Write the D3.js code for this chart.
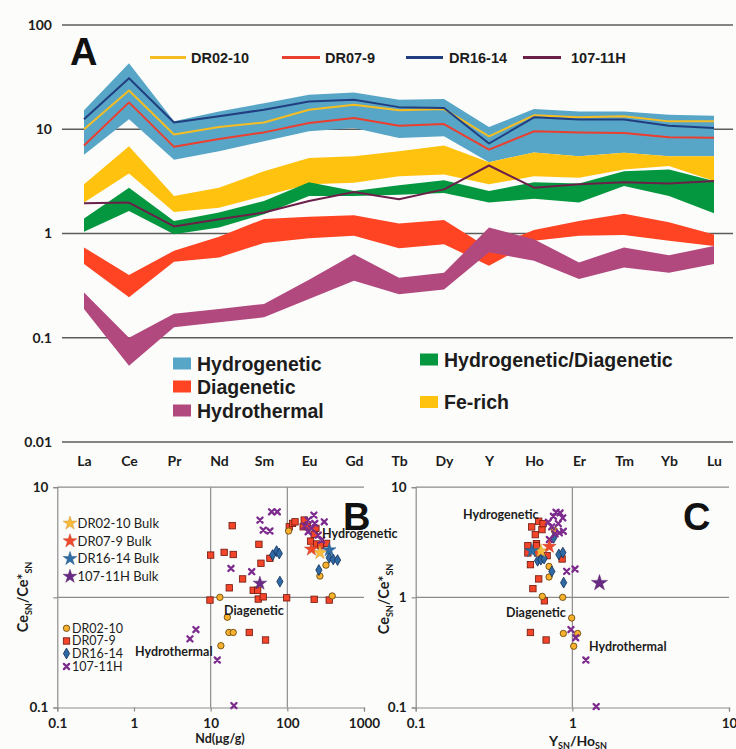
<!DOCTYPE html>
<html><head><meta charset="utf-8">
<script src="https://cdn.jsdelivr.net/npm/d3@7"></script>
<style>body{margin:0;background:#fcfcfb}svg{display:block}</style>
</head><body><svg id="chart" width="736" height="749"></svg>
<script>
// ---------- Panel A: REE patterns (shale-normalised) ----------
const elements = ["La","Ce","Pr","Nd","Sm","Eu","Gd","Tb","Dy","Y","Ho","Er","Tm","Yb","Lu"];
const ticksA = [0.01, 0.1, 1, 10, 100];
const tickLabelsA = ["0.01", "0.1", "1", "10", "100"];

// field envelopes (lower / upper bound per element)
const hydrogeneticLow  = [5.7, 12.5, 5.1, 6.15, 7.66, 9.55, 10.3, 8.26, 8.55, 4.83, 6.0, 5.5, 5.94, 5.5, 5.5];
const hydrogeneticHigh = [15.2, 43, 11.9, 14.8, 17.8, 21.4, 22.5, 19.2, 19.5, 10.5, 15.6, 14.8, 14.8, 13.8, 13.5];
const feRichLow  = [1.98, 3.77, 1.61, 1.77, 2.29, 2.96, 3.07, 3.55, 3.68, 2.96, 3.55, 3.43, 4.11, 4.43, 3.18];
const feRichHigh = [2.96, 6.87, 2.29, 2.75, 3.96, 5.3, 5.5, 6.15, 6.97, 4.83, 6.0, 5.5, 5.94, 5.5, 5.5];
const hydDiaLow  = [1.04, 1.64, 0.985, 1.14, 1.53, 2.29, 2.29, 2.35, 2.45, 1.98, 2.16, 1.98, 2.85, 2.29, 1.56];
const hydDiaHigh = [1.39, 2.75, 1.32, 1.59, 2.05, 3.11, 2.55, 2.9, 3.25, 2.55, 3.11, 3.02, 3.96, 4.11, 3.18];
const diageneticLow  = [0.51, 0.245, 0.536, 0.59, 0.81, 0.90, 0.95, 0.72, 0.79, 0.49, 0.85, 0.95, 0.97, 0.85, 0.76];
const diageneticHigh = [0.735, 0.40, 0.683, 0.93, 1.38, 1.45, 1.5, 1.25, 1.35, 0.72, 1.08, 1.32, 1.55, 1.28, 0.98];
const hydrothermalLow  = [0.189, 0.054, 0.126, 0.141, 0.157, 0.235, 0.352, 0.261, 0.291, 0.66, 0.547, 0.366, 0.473, 0.42, 0.509];
const hydrothermalHigh = [0.271, 0.10, 0.17, 0.189, 0.211, 0.36, 0.634, 0.377, 0.42, 1.14, 0.88, 0.528, 0.735, 0.62, 0.76];

// sample patterns
const dr0210 = [10.0, 23.5, 8.9, 10.5, 11.6, 15.4, 17.2, 15.2, 15.6, 8.55, 13.6, 13.0, 13.3, 11.9, 11.9];
const dr079  = [6.97, 18.1, 6.78, 8.08, 9.33, 11.5, 12.8, 10.8, 11.2, 6.38, 9.55, 9.33, 9.2, 8.4, 8.27];
const dr1614 = [12.5, 30.9, 11.6, 13.3, 15.4, 18.5, 19.2, 16.3, 16.0, 7.3, 13.0, 12.4, 12.4, 10.8, 10.3];
const s10711H = [1.95, 1.98, 1.17, 1.37, 1.59, 2.05, 2.5, 2.13, 2.65, 4.49, 2.75, 2.96, 3.11, 3.02, 3.18];

const sampleNames = ["DR02-10", "DR07-9", "DR16-14", "107-11H"];
const bandNames = ["Hydrogenetic", "Diagenetic", "Hydrothermal", "Hydrogenetic/Diagenetic", "Fe-rich"];

// ---------- Panels B and C: discrimination diagrams ----------
const ticksB = [0.1, 1, 10, 100, 1000];
const tickLabelsB = ["0.1", "1", "10", "100", "1000"];
const ticksC = [0.1, 1, 10];
const tickLabelsC = ["0.1", "1", "10"];
const ticksCe = [0.1, 1, 10];

// [Nd (ug/g), Ce_SN/Ce*_SN]
const dr0210B = [[104,4.0],[319,1.96],[266,1.56],[385,1.03],[13.2,1.0],[16.5,0.66],[17.3,0.48],[19.7,0.48],[13.6,0.364]];
const dr079B = [[10,2.42],[15,2.56],[19.7,2.45],[19.1,4.47],[42.6,3.03],[45.3,2.04],[59.3,2.26],[26.1,1.47],[17.5,1.22],[35.9,1.16],[41,1.16],[41.8,0.965],[48.5,1.01],[9.8,0.945],[98,0.99],[224,0.96],[352,0.945],[106,4.37],[117,4.69],[126,4.85],[166,5.03],[161,4.37],[182,4.43],[236,4.23],[224,3.73],[201,3.24],[241,3.05],[274,2.94],[325,3.09],[31.9,0.48],[52,0.41]];
const dr1614B = [[64.3,2.42],[72.5,2.63],[78.5,2.5],[80,1.39],[258,1.77],[352,2.29],[397,2.21],[452,2.18]];
const s10711HB = [[44,5.03],[62.4,5.98],[73.9,5.98],[48.5,4.08],[59.3,4.0],[18.4,1.83],[34.3,1.71],[222,5.58],[187,5.03],[228,4.69],[169,4.43],[206,4.23],[187,3.94],[253,3.67],[280,3.31],[303,4.85],[6.43,0.51],[5.37,0.42],[12.2,0.27],[20.1,0.104]];
const bulkB = [[266,2.54],[206,2.73],[352,2.69],[43.9,1.34]];

// [Y_SN/Ho_SN, Ce_SN/Ce*_SN]
const dr0210C = [[0.643,1.02],[0.868,1.0],[0.71,1.91],[0.71,1.53],[0.99,0.65],[0.876,0.47],[1.08,0.47],[1.02,0.36],[0.768,4.04]];
const dr079C = [[0.52,2.95],[0.55,4.36],[0.58,3.71],[0.61,4.91],[0.64,4.12],[0.65,4.67],[0.59,3.07],[0.52,2.53],[0.60,2.53],[0.69,2.39],[0.54,1.98],[0.61,1.47],[0.56,1.2],[0.663,0.93],[0.54,0.48],[0.68,0.41],[0.86,2.23],[0.59,2.95]];
const dr1614C = [[0.60,2.15],[0.63,2.2],[0.66,2.25],[0.82,2.45],[0.87,2.55],[0.74,1.72],[0.88,1.36],[0.76,3.47]];
const s10711HC = [[0.787,5.93],[0.835,5.84],[0.757,5.45],[0.869,5.27],[0.703,4.81],[0.814,4.67],[0.739,4.37],[0.876,3.98],[0.776,3.77],[0.713,3.35],[0.826,3.85],[0.92,1.72],[1.04,1.81],[0.98,0.51],[1.05,0.43],[1.22,0.27],[1.42,0.102]];
const bulkC = [[0.63,2.64],[0.713,2.89],[0.551,2.64],[1.49,1.35]];

const bulkLabels = ["DR02-10 Bulk", "DR07-9 Bulk", "DR16-14 Bulk", "107-11H Bulk"];
const fieldLabels = ["Hydrogenetic", "Diagenetic", "Hydrothermal"];

// ---------- styling ----------
const bandColors = {
  "Hydrogenetic": "#58a6c7",
  "Fe-rich": "#ffc20e",
  "Hydrogenetic/Diagenetic": "#05973f",
  "Diagenetic": "#ff4423",
  "Hydrothermal": "#b1497f"
};
const lineColors = ["#f6bd22", "#ea3f2f", "#213f80", "#6a2049"];
const starColors = ["#f8bb3c", "#f0492b", "#2f6ea5", "#682a84"];
const boldFont = "'Liberation Sans', Arial, sans-serif";
const calFont = "Lato, 'Open Sans', sans-serif";
const ink = "#1c1c1c";

const svg = d3.select("#chart");
svg.append("rect").attr("width", 736).attr("height", 749).attr("fill", "#fcfcfb");

// ===== Panel A =====
const xA = d3.scalePoint().domain(elements).range([84, 714]);
const yA = d3.scaleLog().domain([0.01, 100]).range([442, 25]);
const gA = svg.append("g");

gA.selectAll("line.grid").data(ticksA).join("line")
  .attr("class", "grid")
  .attr("x1", 62).attr("x2", 733)
  .attr("y1", d => yA(d)).attr("y2", d => yA(d))
  .attr("stroke", "#5c5c5c").attr("stroke-width", 1.6);

const axA = gA.append("g").attr("transform", "translate(62,0)")
  .call(d3.axisLeft(yA).tickValues(ticksA).tickSize(0).tickPadding(10)
    .tickFormat((d, i) => tickLabelsA[i]));
axA.select(".domain").remove();
axA.selectAll("text").attr("font-family", calFont).attr("font-weight", 700)
  .attr("font-size", 14).attr("fill", ink);

const axAx = gA.append("g").attr("transform", "translate(0,442)")
  .call(d3.axisBottom(xA).tickSize(0).tickPadding(14));
axAx.select(".domain").remove();
axAx.selectAll("text").attr("font-family", calFont).attr("font-weight", 700)
  .attr("font-size", 14).attr("fill", ink);

const bands = [
  ["Hydrogenetic", hydrogeneticLow, hydrogeneticHigh],
  ["Fe-rich", feRichLow, feRichHigh],
  ["Hydrogenetic/Diagenetic", hydDiaLow, hydDiaHigh],
  ["Diagenetic", diageneticLow, diageneticHigh],
  ["Hydrothermal", hydrothermalLow, hydrothermalHigh]
];
const area = d3.area()
  .x((d, i) => xA(elements[i]))
  .y0(d => yA(d[0]))
  .y1(d => yA(d[1]));
gA.selectAll("path.band").data(bands).join("path")
  .attr("class", "band")
  .attr("d", d => area(d3.zip(d[1], d[2])))
  .attr("fill", d => bandColors[d[0]]);

const line = d3.line().x((d, i) => xA(elements[i])).y(d => yA(d));
const sampleSeries = [dr0210, dr079, dr1614, s10711H];
// draw order: 107-11H, DR07-9, DR02-10, DR16-14
[3, 1, 0, 2].forEach(k => {
  gA.append("path").attr("d", line(sampleSeries[k]))
    .attr("fill", "none").attr("stroke", lineColors[k]).attr("stroke-width", 2)
    .attr("stroke-linejoin", "round");
});

// sample legend
const legA = [[150, 186, 191], [282, 320, 325], [406, 443, 449], [523, 561, 571]];
sampleNames.forEach((n, i) => {
  gA.append("line").attr("x1", legA[i][0]).attr("x2", legA[i][1])
    .attr("y1", 57.5).attr("y2", 57.5)
    .attr("stroke", lineColors[i]).attr("stroke-width", 3.2);
  gA.append("text").attr("x", legA[i][2]).attr("y", 57.5).attr("dy", "0.36em")
    .attr("font-family", boldFont).attr("font-weight", 700).attr("font-size", 14.5)
    .attr("fill", ink).text(n);
});
gA.append("text").attr("x", 70).attr("y", 65).attr("font-family", boldFont)
  .attr("font-weight", 700).attr("font-size", 38).attr("fill", "#111").text("A");

// field legend
const bandLegendPos = {
  "Hydrogenetic": [173, 357.5],
  "Diagenetic": [173, 380.5],
  "Hydrothermal": [173, 404.5],
  "Hydrogenetic/Diagenetic": [420, 353.5],
  "Fe-rich": [420, 396]
};
bandNames.forEach(n => {
  const [x, y] = bandLegendPos[n];
  gA.append("rect").attr("x", x).attr("y", y).attr("width", 18).attr("height", 12)
    .attr("fill", bandColors[n]);
  gA.append("text").attr("x", x + 24).attr("y", y + 6).attr("dy", "0.36em")
    .attr("font-family", boldFont).attr("font-weight", 700).attr("font-size", 19.5)
    .attr("fill", ink).text(n);
});

// ===== Panels B and C =====
const yCe = d3.scaleLog().domain([0.1, 10]).range([707.5, 487.2]);
const xB = d3.scaleLog().domain([0.1, 1000]).range([57.3, 364]);
const xC = d3.scaleLog().domain([0.1, 10]).range([415.7, 729]);
const gridCol = "#8c8c8c";

function frame(g, x, xTicks, xLabels, vGrid, yLabels) {
  const [x0, x1] = x.range();
  // horizontal grid
  g.selectAll("line.h").data([1, 10]).join("line").attr("class", "h")
    .attr("x1", x0).attr("x2", x1).attr("y1", d => yCe(d)).attr("y2", d => yCe(d))
    .attr("stroke", gridCol).attr("stroke-width", 1.2);
  g.selectAll("line.v").data(vGrid).join("line").attr("class", "v")
    .attr("x1", d => x(d)).attr("x2", d => x(d)).attr("y1", yCe(10)).attr("y2", yCe(0.1))
    .attr("stroke", gridCol).attr("stroke-width", 1.2);
  const ax = g.append("g").attr("transform", `translate(0,${yCe(0.1)})`)
    .call(d3.axisBottom(x).tickValues(xTicks).tickSize(4).tickPadding(7)
      .tickFormat((d, i) => xLabels[i]));
  const ay = g.append("g").attr("transform", `translate(${x0},0)`)
    .call(d3.axisLeft(yCe).tickValues(ticksCe).tickSize(4).tickPadding(5)
      .tickFormat((d, i) => yLabels[i]));
  [ax, ay].forEach(a => {
    a.select(".domain").attr("stroke", gridCol).attr("stroke-width", 1.2);
    a.selectAll(".tick line").attr("stroke", gridCol).attr("stroke-width", 1.2);
    a.selectAll("text").attr("font-family", calFont).attr("font-weight", 700)
      .attr("font-size", 13.5).attr("fill", ink);
  });
}

const gB = svg.append("g");
const gC = svg.append("g");
frame(gB, xB, ticksB, tickLabelsB, [10, 100], ["0.1", "", "10"]);
frame(gC, xC, ticksC, tickLabelsC, [1], ["0.1", "1", "10"]);

// axis titles
function ceTitle(g, tx, ty) {
  const t = g.append("text").attr("transform", `translate(${tx},${ty}) rotate(-90)`)
    .attr("text-anchor", "middle").attr("font-family", calFont).attr("font-weight", 700)
    .attr("font-size", 14.5).attr("fill", ink);
  t.append("tspan").text("Ce");
  t.append("tspan").text("SN").attr("font-size", 9).attr("dy", 4);
  t.append("tspan").text("/Ce*").attr("dy", -4);
  t.append("tspan").text("SN").attr("font-size", 9).attr("dy", 4);
}
ceTitle(gB, 28, 597);
ceTitle(gC, 389, 599);
gB.append("text").attr("x", 220).attr("y", 743).attr("text-anchor", "middle")
  .attr("font-family", calFont).attr("font-weight", 700).attr("font-size", 12.5)
  .attr("fill", ink).text("Nd(μg/g)");
const tC = gC.append("text").attr("x", 578).attr("y", 746).attr("text-anchor", "middle")
  .attr("font-family", calFont).attr("font-weight", 700).attr("font-size", 14)
  .attr("fill", ink);
tC.append("tspan").text("Y");
tC.append("tspan").text("SN").attr("font-size", 9).attr("dy", 2.5);
tC.append("tspan").text("/Ho").attr("dy", -2.5);
tC.append("tspan").text("SN").attr("font-size", 9).attr("dy", 2.5);

// panel letters
gB.append("text").attr("x", 343).attr("y", 530).attr("font-family", boldFont)
  .attr("font-weight", 700).attr("font-size", 38).attr("fill", "#111").text("B");
gC.append("text").attr("x", 683).attr("y", 530).attr("font-family", boldFont)
  .attr("font-weight", 700).attr("font-size", 38).attr("fill", "#111").text("C");

// markers
const markerStyle = [
  { type: "circle", fill: "#f8b12c", stroke: "#5a3c05" },
  { type: "square", fill: "#f2452a", stroke: "#6e170c" },
  { type: "diamond", fill: "#2f6aa5", stroke: "#132f55" },
  { type: "cross", fill: "none", stroke: "#7c2b8d" }
];
const diamondPath = d3.symbol(d3.symbolDiamond, 34)();
const starPath = d3.symbol(d3.symbolStar, 58)();
const starBig = d3.symbol(d3.symbolStar, 80)();

function marker(g, k, cx, cy) {
  const s = markerStyle[k];
  if (s.type === "circle") {
    g.append("circle").attr("cx", cx).attr("cy", cy).attr("r", 3.2)
      .attr("fill", s.fill).attr("stroke", s.stroke).attr("stroke-width", 0.8);
  } else if (s.type === "square") {
    g.append("rect").attr("x", cx - 3.2).attr("y", cy - 3.2).attr("width", 6.4).attr("height", 6.4)
      .attr("fill", s.fill).attr("stroke", s.stroke).attr("stroke-width", 0.8);
  } else if (s.type === "diamond") {
    g.append("path").attr("d", diamondPath).attr("transform", `translate(${cx},${cy})`)
      .attr("fill", s.fill).attr("stroke", s.stroke).attr("stroke-width", 0.8);
  } else {
    g.append("path").attr("d", "M-2.6,-2.6L2.6,2.6M2.6,-2.6L-2.6,2.6")
      .attr("transform", `translate(${cx},${cy})`)
      .attr("stroke", s.stroke).attr("stroke-width", 2.3).attr("stroke-linecap", "round");
  }
}
function star(g, k, cx, cy, big) {
  g.append("path").attr("d", big ? starBig : starPath).attr("transform", `translate(${cx},${cy})`)
    .attr("fill", starColors[k]).attr("stroke", d3.color(starColors[k]).darker(0.6))
    .attr("stroke-width", 0.5);
}

const setsB = [dr0210B, dr079B, dr1614B, s10711HB];
const setsC = [dr0210C, dr079C, dr1614C, s10711HC];
[1, 0, 2, 3].forEach(k => {
  setsB[k].forEach(p => marker(gB, k, xB(p[0]), yCe(p[1])));
  setsC[k].forEach(p => marker(gC, k, xC(p[0]), yCe(p[1])));
});
bulkB.forEach((p, k) => star(gB, k, xB(p[0]), yCe(p[1]), false));
bulkC.forEach((p, k) => star(gC, k, xC(p[0]), yCe(p[1]), k === 3));

// field annotations
const annB = [[322, 534], [224, 611], [135, 652]];
const annC = [[463, 515], [506, 613], [589, 647]];
fieldLabels.forEach((n, i) => {
  gB.append("text").attr("x", annB[i][0]).attr("y", annB[i][1]).attr("dy", "0.35em")
    .attr("font-family", calFont).attr("font-weight", 700).attr("font-size", 12.5)
    .attr("fill", ink).text(n);
  gC.append("text").attr("x", annC[i][0]).attr("y", annC[i][1]).attr("dy", "0.35em")
    .attr("font-family", calFont).attr("font-weight", 700).attr("font-size", 12.5)
    .attr("fill", ink).text(n);
});

// legends in panel B
const bulkLegY = [523.3, 541, 558.7, 576.5];
bulkLabels.forEach((n, k) => {
  star(gB, k, 70, bulkLegY[k], false);
  gB.append("text").attr("x", 77.5).attr("y", bulkLegY[k]).attr("dy", "0.35em")
    .attr("font-family", calFont).attr("font-size", 13).attr("fill", ink).text(n);
});
const sampleLegY = [628.3, 641, 653.5, 666.5];
sampleNames.forEach((n, k) => {
  marker(gB, k, 66.5, sampleLegY[k]);
  gB.append("text").attr("x", 72).attr("y", sampleLegY[k]).attr("dy", "0.35em")
    .attr("font-family", calFont).attr("font-size", 12.5).attr("fill", ink).text(n);
});
</script></body></html>
